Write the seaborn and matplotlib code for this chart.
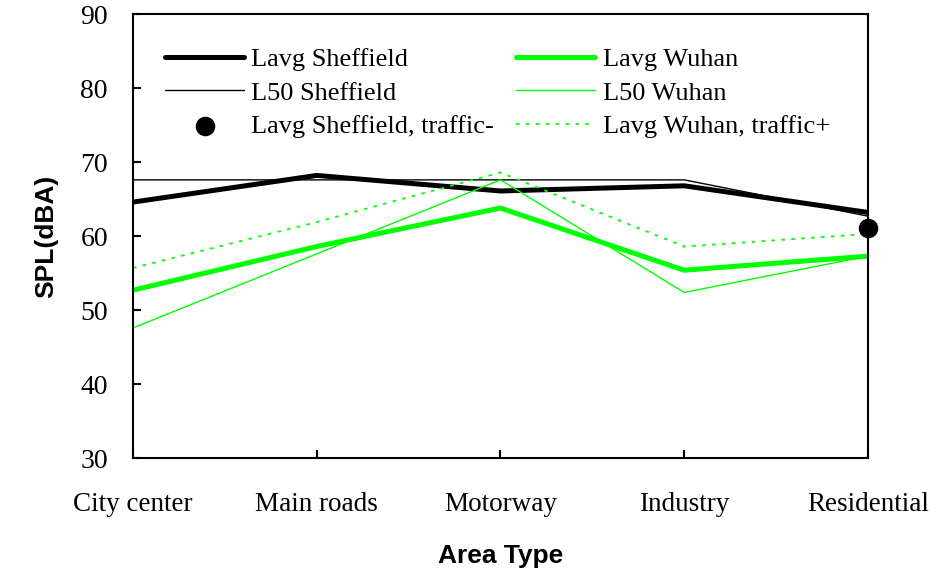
import matplotlib
matplotlib.use("Agg")
import matplotlib.pyplot as plt
import seaborn as sns
import pandas as pd

# Area types along the x axis
areas = ["City center", "Main roads", "Motorway", "Industry", "Residential"]

# Sound pressure levels, dBA
lavg_sheffield = [64.6, 68.2, 66.1, 66.8, 63.2]
l50_sheffield = [67.6, 67.6, 67.6, 67.6, 62.7]
lavg_wuhan = [52.7, 58.6, 63.8, 55.4, 57.3]
l50_wuhan = [47.6, 57.6, 67.6, 52.4, 57.3]
lavg_wuhan_traffic = [55.7, 61.9, 68.6, 58.6, 60.3]

# Single point: Sheffield average with reduced traffic (residential)
traffic_minus_area = ["Residential"]
traffic_minus_value = [61.1]

y_ticks = [30, 40, 50, 60, 70, 80, 90]

sns.set_style("white")
plt.rcParams["font.family"] = ["Liberation Serif", "DejaVu Serif"]
plt.rcParams["text.color"] = "black"
plt.rcParams["xtick.color"] = "black"
plt.rcParams["ytick.color"] = "black"
plt.rcParams["axes.labelcolor"] = "black"

green = "#00FF00"
pos = {a: i for i, a in enumerate(areas)}

def frame(values):
    return pd.DataFrame({"x": [pos[a] for a in areas], "y": values})

fig, ax = plt.subplots(figsize=(9.43, 5.70), dpi=100)
fig.subplots_adjust(left=0.141, right=0.9205, top=0.9754, bottom=0.196)

sns.lineplot(data=frame(lavg_sheffield), x="x", y="y", ax=ax, color="black",
             linewidth=3.6, label="Lavg Sheffield")
sns.lineplot(data=frame(l50_sheffield), x="x", y="y", ax=ax, color="black",
             linewidth=1.0, label="L50 Sheffield")
pt = pd.DataFrame({"x": [pos[a] for a in traffic_minus_area], "y": traffic_minus_value})
sns.scatterplot(data=pt, x="x", y="y", ax=ax, color="black", s=170, edgecolor="black",
                label="Lavg Sheffield, traffic-", zorder=5, clip_on=False)
sns.lineplot(data=frame(lavg_wuhan), x="x", y="y", ax=ax, color=green,
             linewidth=3.6, label="Lavg Wuhan")
sns.lineplot(data=frame(l50_wuhan), x="x", y="y", ax=ax, color=green,
             linewidth=1.0, label="L50 Wuhan")
sns.lineplot(data=frame(lavg_wuhan_traffic), x="x", y="y", ax=ax, color=green,
             linewidth=1.3, linestyle=(0, (2, 3.5)), label="Lavg Wuhan, traffic+")

ax.set_xlim(0, len(areas) - 1)
ax.set_ylim(30, 90)
ax.set_yticks(y_ticks)
ax.set_xticks(range(len(areas)))
ax.set_xticklabels(areas)

for s in ax.spines.values():
    s.set_visible(True)
    s.set_color("black")
    s.set_linewidth(1.5)

ax.tick_params(axis="y", direction="in", length=6, width=1.5, pad=18,
               labelsize=20, left=True, right=False)
ax.tick_params(axis="x", direction="in", length=6, width=1.5, pad=24.5,
               labelsize=19.5, bottom=True, top=False)

ax.set_xlabel("Area Type", fontsize=19, fontweight="bold",
              family=["Liberation Sans", "DejaVu Sans"], labelpad=19.5)
ax.set_ylabel("SPL(dBA)", fontsize=19, fontweight="bold",
              family=["Liberation Sans", "DejaVu Sans"], labelpad=16)

handles, labels = ax.get_legend_handles_labels()
order = ["Lavg Sheffield", "L50 Sheffield", "Lavg Sheffield, traffic-",
         "Lavg Wuhan", "L50 Wuhan", "Lavg Wuhan, traffic+"]
hmap = dict(zip(labels, handles))
ax.legend([hmap[o] for o in order], order, ncol=2, frameon=False,
          loc="upper left", bbox_to_anchor=(0.0435, 0.925), fontsize=19,
          handlelength=3.0, handletextpad=0.28, columnspacing=0.83,
          labelspacing=0.39, borderaxespad=0.0, borderpad=0.0)

fig.savefig("out.png", dpi=100)
